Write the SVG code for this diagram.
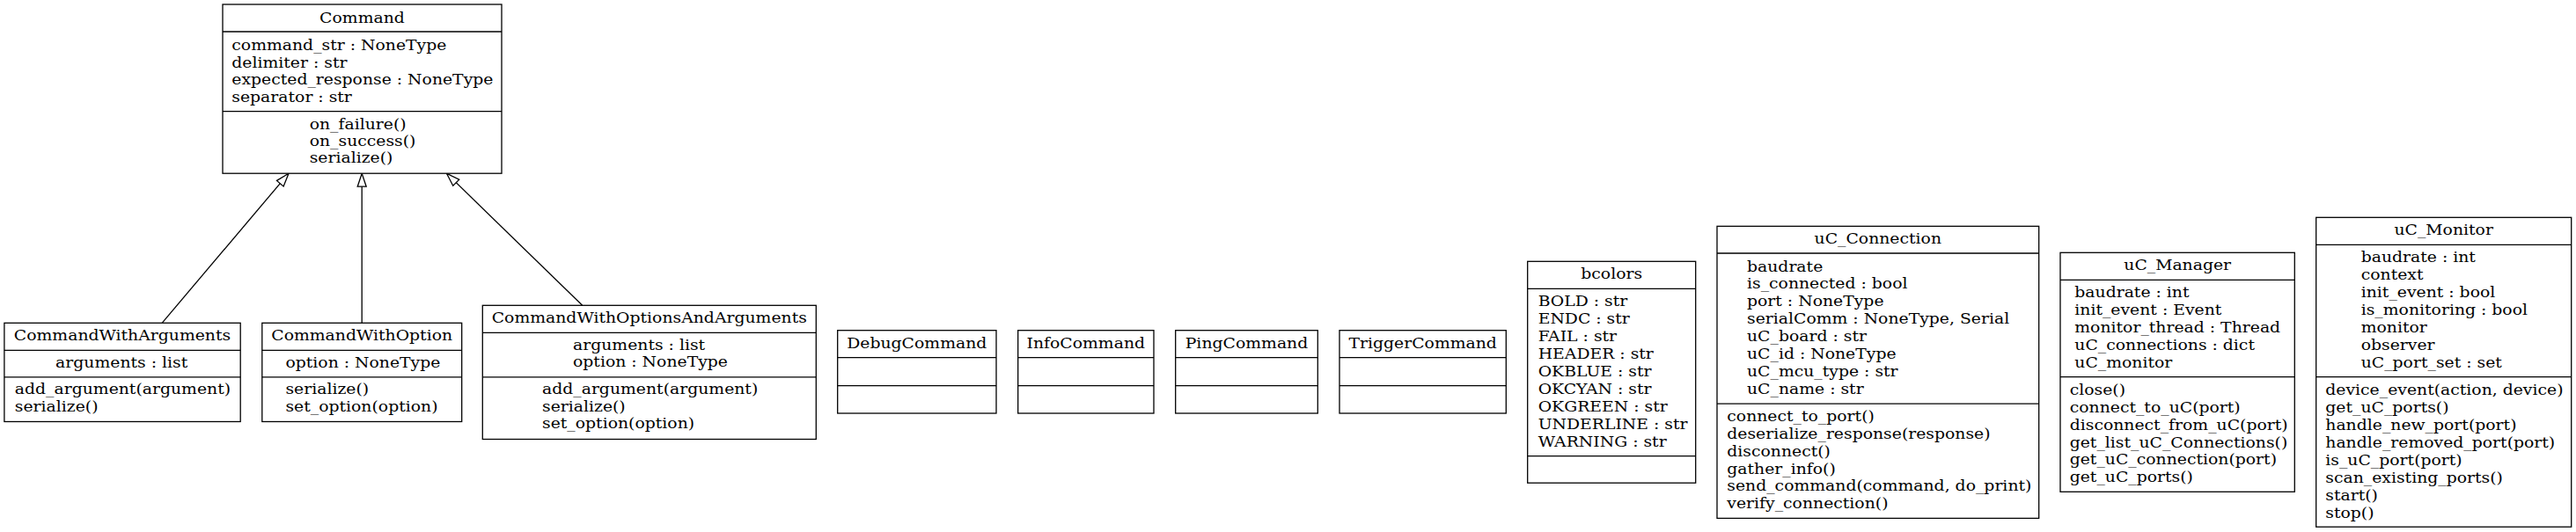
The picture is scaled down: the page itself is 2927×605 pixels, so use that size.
<svg xmlns="http://www.w3.org/2000/svg" width="2927" height="605" viewBox="0 0 2927 605">
<style>
.box{fill:#fff;stroke:#000;stroke-width:1.3}
.sep{stroke:#000;stroke-width:1.3}
.t{font-family:"DejaVu Serif","Liberation Serif",serif;font-size:17.5px;fill:#000;transform-box:fill-box;transform:scaleX(1.075)}
.c{text-anchor:middle;transform-origin:center}
.l{text-anchor:start;transform-origin:left center}
.edge{stroke:#000;stroke-width:1.3;fill:none}
</style>
<defs>
<marker id="inh" markerUnits="userSpaceOnUse" markerWidth="17" markerHeight="12" refX="15.5" refY="5.5" orient="auto" overflow="visible">
<path d="M0.5,0.5 L15.5,5.5 L0.5,10.5 Z" fill="#fff" stroke="#000" stroke-width="1.3"/>
</marker>
</defs>
<rect width="2927" height="605" fill="#fff"/>

<g id="edges">
<line class="edge" x1="184.1" y1="367.3" x2="328" y2="197.2" marker-end="url(#inh)"/>
<line class="edge" x1="411.2" y1="367.3" x2="411.2" y2="197.2" marker-end="url(#inh)"/>
<line class="edge" x1="661.7" y1="347.3" x2="507.5" y2="197.2" marker-end="url(#inh)"/>
</g>

<g id="Command">
<rect class="box" x="253" y="5" width="317" height="192.2"/>
<line class="sep" x1="253" y1="36" x2="570" y2="36"/>
<line class="sep" x1="253" y1="126.6" x2="570" y2="126.6"/>
<text class="t c" x="411.5" y="25.8">Command</text>
<text class="t l" x="263.3" y="57.2">command_str : NoneType</text>
<text class="t l" x="263.3" y="76.7">delimiter : str</text>
<text class="t l" x="263.3" y="96.2">expected_response : NoneType</text>
<text class="t l" x="263.3" y="115.7">separator : str</text>
<text class="t l" x="351.7" y="146.9">on_failure()</text>
<text class="t l" x="351.7" y="166.2">on_success()</text>
<text class="t l" x="351.7" y="185.5">serialize()</text>
</g>

<g id="CommandWithArguments">
<rect class="box" x="4.9" y="367.3" width="268.3" height="112.2"/>
<line class="sep" x1="4.9" y1="398.3" x2="273.2" y2="398.3"/>
<line class="sep" x1="4.9" y1="428.9" x2="273.2" y2="428.9"/>
<text class="t c" x="139" y="386.9">CommandWithArguments</text>
<text class="t l" x="63.1" y="418">arguments : list</text>
<text class="t l" x="16.8" y="448.5">add_argument(argument)</text>
<text class="t l" x="16.8" y="468">serialize()</text>
</g>

<g id="CommandWithOption">
<rect class="box" x="297.8" y="367.3" width="226.9" height="112.2"/>
<line class="sep" x1="297.8" y1="398.3" x2="524.7" y2="398.3"/>
<line class="sep" x1="297.8" y1="428.9" x2="524.7" y2="428.9"/>
<text class="t c" x="411.2" y="386.9">CommandWithOption</text>
<text class="t l" x="324.4" y="418">option : NoneType</text>
<text class="t l" x="324.4" y="448.5">serialize()</text>
<text class="t l" x="324.4" y="468">set_option(option)</text>
</g>

<g id="CommandWithOptionsAndArguments">
<rect class="box" x="548.3" y="347.3" width="379" height="152.2"/>
<line class="sep" x1="548.3" y1="378.3" x2="927.3" y2="378.3"/>
<line class="sep" x1="548.3" y1="428.9" x2="927.3" y2="428.9"/>
<text class="t c" x="737.8" y="366.9">CommandWithOptionsAndArguments</text>
<text class="t l" x="651" y="397.7">arguments : list</text>
<text class="t l" x="651" y="417.5">option : NoneType</text>
<text class="t l" x="616" y="448.5">add_argument(argument)</text>
<text class="t l" x="616" y="468">serialize()</text>
<text class="t l" x="616" y="487.5">set_option(option)</text>
</g>

<g id="DebugCommand">
<rect class="box" x="951.7" y="375.7" width="180.3" height="94.3"/>
<line class="sep" x1="951.7" y1="406.7" x2="1132" y2="406.7"/>
<line class="sep" x1="951.7" y1="438.7" x2="1132" y2="438.7"/>
<text class="t c" x="1041.8" y="396.2">DebugCommand</text>
</g>

<g id="InfoCommand">
<rect class="box" x="1156.7" y="375.7" width="154.3" height="94.3"/>
<line class="sep" x1="1156.7" y1="406.7" x2="1311" y2="406.7"/>
<line class="sep" x1="1156.7" y1="438.7" x2="1311" y2="438.7"/>
<text class="t c" x="1233.8" y="396.2">InfoCommand</text>
</g>

<g id="PingCommand">
<rect class="box" x="1335.7" y="375.7" width="161.6" height="94.3"/>
<line class="sep" x1="1335.7" y1="406.7" x2="1497.3" y2="406.7"/>
<line class="sep" x1="1335.7" y1="438.7" x2="1497.3" y2="438.7"/>
<text class="t c" x="1416.5" y="396.2">PingCommand</text>
</g>

<g id="TriggerCommand">
<rect class="box" x="1522" y="375.7" width="189.3" height="94.3"/>
<line class="sep" x1="1522" y1="406.7" x2="1711.3" y2="406.7"/>
<line class="sep" x1="1522" y1="438.7" x2="1711.3" y2="438.7"/>
<text class="t c" x="1616.7" y="396.2">TriggerCommand</text>
</g>

<g id="bcolors">
<rect class="box" x="1735.7" y="297.3" width="191" height="251.9"/>
<line class="sep" x1="1735.7" y1="328.3" x2="1926.7" y2="328.3"/>
<line class="sep" x1="1735.7" y1="518.6" x2="1926.7" y2="518.6"/>
<text class="t c" x="1831.2" y="316.7">bcolors</text>
<text class="t l" x="1747.7" y="348.3">BOLD : str</text>
<text class="t l" x="1747.7" y="368.3">ENDC : str</text>
<text class="t l" x="1747.7" y="388.3">FAIL : str</text>
<text class="t l" x="1747.7" y="408.3">HEADER : str</text>
<text class="t l" x="1747.7" y="428.3">OKBLUE : str</text>
<text class="t l" x="1747.7" y="448.3">OKCYAN : str</text>
<text class="t l" x="1747.7" y="468.3">OKGREEN : str</text>
<text class="t l" x="1747.7" y="488.3">UNDERLINE : str</text>
<text class="t l" x="1747.7" y="508.3">WARNING : str</text>
</g>

<g id="uC_Connection">
<rect class="box" x="1951" y="257.3" width="365.7" height="332.1"/>
<line class="sep" x1="1951" y1="288" x2="2316.7" y2="288"/>
<line class="sep" x1="1951" y1="459.2" x2="2316.7" y2="459.2"/>
<text class="t c" x="2133.8" y="277">uC_Connection</text>
<text class="t l" x="1985" y="308.7">baudrate</text>
<text class="t l" x="1985" y="328.5">is_connected : bool</text>
<text class="t l" x="1985" y="348.4">port : NoneType</text>
<text class="t l" x="1985" y="368.3">serialComm : NoneType, Serial</text>
<text class="t l" x="1985" y="388.1">uC_board : str</text>
<text class="t l" x="1985" y="408">uC_id : NoneType</text>
<text class="t l" x="1985" y="427.9">uC_mcu_type : str</text>
<text class="t l" x="1985" y="447.7">uC_name : str</text>
<text class="t l" x="1962.3" y="479.3">connect_to_port()</text>
<text class="t l" x="1962.3" y="499.1">deserialize_response(response)</text>
<text class="t l" x="1962.3" y="518.9">disconnect()</text>
<text class="t l" x="1962.3" y="538.7">gather_info()</text>
<text class="t l" x="1962.3" y="558.5">send_command(command, do_print)</text>
<text class="t l" x="1962.3" y="578.3">verify_connection()</text>
</g>

<g id="uC_Manager">
<rect class="box" x="2341" y="287.3" width="266.3" height="272"/>
<line class="sep" x1="2341" y1="318.3" x2="2607.3" y2="318.3"/>
<line class="sep" x1="2341" y1="428.6" x2="2607.3" y2="428.6"/>
<text class="t c" x="2474.2" y="306.9">uC_Manager</text>
<text class="t l" x="2357.3" y="338.3">baudrate : int</text>
<text class="t l" x="2357.3" y="358.3">init_event : Event</text>
<text class="t l" x="2357.3" y="378.3">monitor_thread : Thread</text>
<text class="t l" x="2357.3" y="398.3">uC_connections : dict</text>
<text class="t l" x="2357.3" y="418.3">uC_monitor</text>
<text class="t l" x="2351.7" y="449.3">close()</text>
<text class="t l" x="2351.7" y="469.1">connect_to_uC(port)</text>
<text class="t l" x="2351.7" y="488.9">disconnect_from_uC(port)</text>
<text class="t l" x="2351.7" y="508.7">get_list_uC_Connections()</text>
<text class="t l" x="2351.7" y="528.5">get_uC_connection(port)</text>
<text class="t l" x="2351.7" y="548.3">get_uC_ports()</text>
</g>

<g id="uC_Monitor">
<rect class="box" x="2631.7" y="247.3" width="290" height="351.9"/>
<line class="sep" x1="2631.7" y1="278.3" x2="2921.7" y2="278.3"/>
<line class="sep" x1="2631.7" y1="428.6" x2="2921.7" y2="428.6"/>
<text class="t c" x="2776.7" y="266.9">uC_Monitor</text>
<text class="t l" x="2682.7" y="298.3">baudrate : int</text>
<text class="t l" x="2682.7" y="318.3">context</text>
<text class="t l" x="2682.7" y="338.3">init_event : bool</text>
<text class="t l" x="2682.7" y="358.3">is_monitoring : bool</text>
<text class="t l" x="2682.7" y="378.3">monitor</text>
<text class="t l" x="2682.7" y="398.3">observer</text>
<text class="t l" x="2682.7" y="418.3">uC_port_set : set</text>
<text class="t l" x="2642.3" y="449.3">device_event(action, device)</text>
<text class="t l" x="2642.3" y="469.3">get_uC_ports()</text>
<text class="t l" x="2642.3" y="489.3">handle_new_port(port)</text>
<text class="t l" x="2642.3" y="509.3">handle_removed_port(port)</text>
<text class="t l" x="2642.3" y="529.3">is_uC_port(port)</text>
<text class="t l" x="2642.3" y="549.3">scan_existing_ports()</text>
<text class="t l" x="2642.3" y="569.3">start()</text>
<text class="t l" x="2642.3" y="589.3">stop()</text>
</g>
</svg>
